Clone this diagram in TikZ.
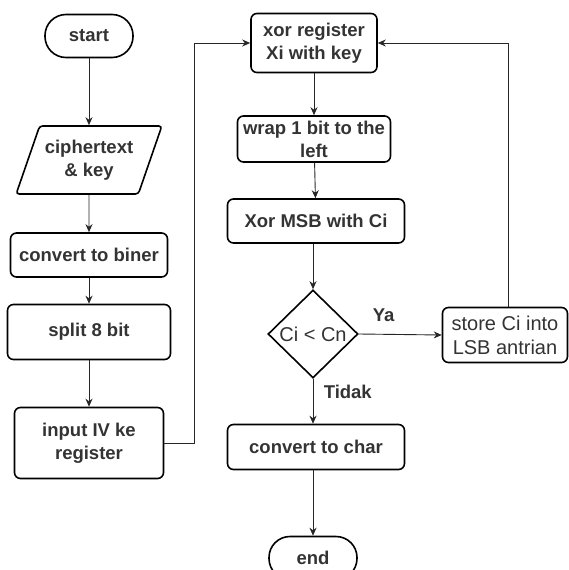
\documentclass[tikz,border=0pt]{standalone}
\usepackage{fontspec}
\setmainfont{Liberation Sans}
\usepackage{tikz}
\usetikzlibrary{arrows.meta, positioning, shapes.geometric}

\begin{document}
\begin{tikzpicture}[
    x=1pt, y=-1pt,
    font=\fontsize{18.5}{23}\selectfont\bfseries, text=black!80,
    box/.style={draw, line width=1.6pt, rounded corners=6pt, align=center,
                inner sep=2pt},
    term/.style={draw, line width=1.6pt, rounded corners=21pt, minimum width=88pt,
                 minimum height=43pt, inner sep=2pt},
    io/.style={draw, line width=1.6pt, trapezium, trapezium left angle=63,
               trapezium right angle=117, trapezium stretches=true,
               rounded corners=3pt, minimum width=146pt, minimum height=68pt,
               align=center, inner sep=1pt},
    cond/.style={draw, line width=1.6pt, diamond, minimum width=90pt,
                 minimum height=88pt, inner sep=0pt},
    arr/.style={-{Stealth[length=8pt, width=7pt]}, line width=0.9pt, draw=black!85},
    lbl/.style={font=\fontsize{18.5}{23}\selectfont\bfseries},
    plain/.style={font=\fontsize{20}{24}\selectfont},
  ]

  \useasboundingbox (0,0) rectangle (569,570);

  % left column
  \node[term] (start) at (89,36) {start};
  \node[io] (cipher) at (89,160) {ciphertext\\\& key};
  \node[box, minimum width=157pt, minimum height=44pt] (biner) at (89,255) {convert to biner};
  \node[box, minimum width=163pt, minimum height=55pt] (split) at (89,332) {split 8 bit};
  \node[box, minimum width=149pt, minimum height=71pt] (input) at (89,443) {input IV ke\\register};

  % right column
  \node[box, minimum width=126pt, minimum height=59pt] (xor) at (314,43) {xor register\\Xi with key};
  \node[box, minimum width=153pt, minimum height=46pt, inner sep=0pt] (wrap) at (314,139) {wrap 1 bit to the\\left};
  \node[box, minimum width=177pt, minimum height=44pt] (msb) at (316,221) {Xor MSB with Ci};
  \node[cond, label={[plain]center:Ci < Cn}] (cmp) at (313,334) {};
  \node[box, plain, minimum width=125pt, minimum height=55pt] (store) at (505,335) {store Ci into\\LSB antrian};
  \node[box, minimum width=177pt, minimum height=45pt] (char) at (316,447) {convert to char};
  \node[term] (end) at (313,558) {end};

  \draw[arr] (start) -- (cipher);
  \draw[arr] (cipher) -- (biner);
  \draw[arr] (biner) -- (split);
  \draw[arr] (split) -- (input);
  \draw[arr] (input.east) -- ++(30,0) |- (xor.west);

  \draw[arr] (xor) -- (wrap);
  \draw[arr] (wrap) -- (msb);
  \draw[arr] (msb.south -| cmp.north) -- (cmp.north);
  \draw[arr] (cmp.east) -- (store.west)
    node[lbl, pos=0.3, above=9pt] {Ya};
  \draw[arr] ([xshift=3pt]store.north) |- (xor.east);
  \draw[arr] (cmp.south) -- (cmp.south |- char.north)
    node[lbl, pos=0.3, right=7pt] {Tidak};
  \draw[arr] (char.south -| end.north) -- (end.north);

\end{tikzpicture}
\end{document}
